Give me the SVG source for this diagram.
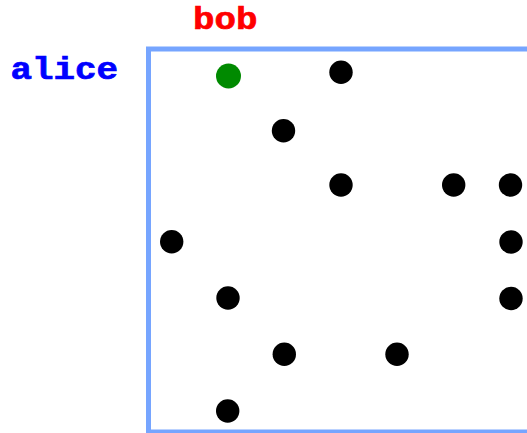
<svg xmlns="http://www.w3.org/2000/svg" width="527" height="433" viewBox="0 0 527 433">
<style>
.lbl{font-family:"Liberation Mono","Courier New",monospace;font-weight:bold;font-size:32px;stroke-width:0.7px}
.dot{fill:#000}
.frame{fill:none;stroke:#76a5ff;stroke-width:5}
</style>
<rect width="527" height="433" fill="#fff"/>
<g id="frame"><rect class="frame" x="148.5" y="49" width="420" height="383"/></g>
<g id="labels">
<text id="alice" class="lbl" transform="translate(10.5 78.5) scale(1.12 1)" x="0" y="0" fill="#0000ff" stroke="#0000ff">alice</text>
<text id="bob" class="lbl" transform="translate(193 28.5) scale(1.12 1)" x="0" y="0" fill="#ff0000" stroke="#ff0000">bob</text>
</g>
<g id="connectors"></g>
<g id="n-green"><circle cx="228.5" cy="76" r="12.5" fill="#008a00"/></g>
<g id="n1"><circle class="dot" cx="341" cy="72.3" r="11.7"/></g>
<g id="n2"><circle class="dot" cx="283.5" cy="130.7" r="11.7"/></g>
<g id="n3"><circle class="dot" cx="341" cy="185" r="11.7"/></g>
<g id="n4"><circle class="dot" cx="453.7" cy="185" r="11.7"/></g>
<g id="n5"><circle class="dot" cx="510.5" cy="185" r="11.7"/></g>
<g id="n6"><circle class="dot" cx="171.7" cy="241.7" r="11.7"/></g>
<g id="n7"><circle class="dot" cx="511" cy="242" r="11.7"/></g>
<g id="n8"><circle class="dot" cx="228" cy="298" r="11.7"/></g>
<g id="n9"><circle class="dot" cx="511" cy="298.5" r="11.7"/></g>
<g id="n10"><circle class="dot" cx="284.3" cy="354.3" r="11.7"/></g>
<g id="n11"><circle class="dot" cx="397" cy="354.3" r="11.7"/></g>
<g id="n12"><circle class="dot" cx="227.7" cy="411" r="11.7"/></g>
</svg>
